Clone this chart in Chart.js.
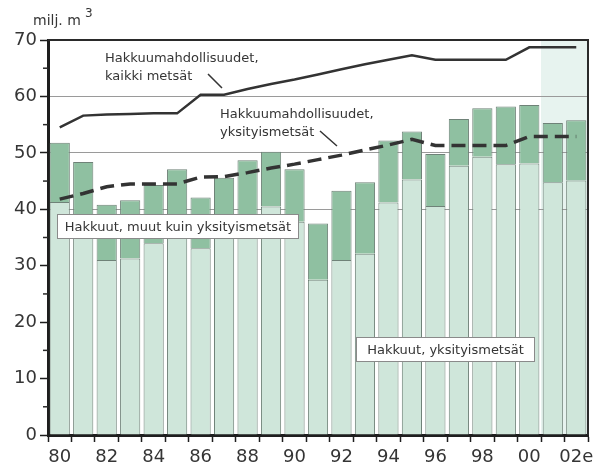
<!DOCTYPE html>
<html>
<head>
<meta charset="utf-8">
<script src="https://cdn.jsdelivr.net/npm/chart.js@4"></script>
<style>
  html, body { margin: 0; padding: 0; background: #fff; }
  #wrap { width: 607px; height: 473px; }
</style>
</head>
<body>
<div id="wrap"><canvas id="myChart"></canvas></div>
<script>
// vuodet 1980-2002 (2002 arvio)
var years = ['80','81','82','83','84','85','86','87','88','89','90','91','92','93','94','95','96','97','98','99','00','01','02e'];
var xTickLabels = ['80','82','84','86','88','90','92','94','96','98','00','02e'];
var forecastYears = ['01','02e'];

// hakkuut, milj. m3
var privateCuts = [41.3, 37.0, 31.0, 31.3, 34.0, 37.5, 33.1, 37.0, 38.0, 40.5, 37.8, 27.5, 31.0, 32.1, 41.2, 45.3, 40.6, 47.7, 49.3, 48.0, 48.1, 44.8, 45.1];
var otherCuts   = [10.5, 11.4,  9.8, 10.3, 10.3,  9.6,  9.0,  8.6, 10.7,  9.7,  9.3, 10.0, 12.3, 12.7, 11.0,  8.5,  9.2,  8.3,  8.6, 10.2, 10.4, 10.5, 10.7];

// hakkuumahdollisuudet
var potentialAll     = [54.5, 56.6, 56.8, 56.9, 57.0, 57.0, 60.3, 60.3, 61.3, 62.2, 63.0, 63.9, 64.8, 65.7, 66.5, 67.3, 66.5, 66.5, 66.5, 66.5, 68.7, 68.7, 68.7];
var potentialPrivate = [41.8, 42.8, 44.0, 44.5, 44.5, 44.5, 45.7, 45.8, 46.5, 47.3, 48.0, 48.8, 49.6, 50.5, 51.4, 52.4, 51.3, 51.3, 51.3, 51.3, 52.9, 52.9, 52.9];

var yTicks = [0, 10, 20, 30, 40, 50, 60, 70];

var FONT = "'DejaVu Sans', sans-serif";
var INK = '#353535';

function boxLabel(c, text, x1, y1, x2, y2) {
  c.fillStyle = '#ffffff';
  c.fillRect(x1, y1, x2 - x1, y2 - y1);
  c.strokeStyle = '#8a8a8a';
  c.lineWidth = 1;
  c.strokeRect(x1 + 0.5, y1 + 0.5, x2 - x1 - 1, y2 - y1 - 1);
  c.fillStyle = INK;
  c.textAlign = 'center';
  c.textBaseline = 'middle';
  c.fillText(text, (x1 + x2) / 2, (y1 + y2) / 2 + 1);
}

var decor = {
  id: 'decor',
  beforeDraw: function(chart) {
    var c = chart.ctx, a = chart.chartArea, xs = chart.scales.x;
    var w = xs.getPixelForValue(1) - xs.getPixelForValue(0);
    var x0 = xs.getPixelForValue(years.indexOf(forecastYears[0])) - w / 2;
    c.save();
    c.fillStyle = '#e7f3ef';
    c.fillRect(x0, a.top, a.right - x0, a.bottom - a.top);
    c.restore();
  },
  afterDraw: function(chart) {
    var c = chart.ctx, a = chart.chartArea, ys = chart.scales.y;
    c.save();
    // kehys ylä- ja oikea reuna
    c.strokeStyle = '#2a2a2a';
    c.lineWidth = 2;
    c.beginPath();
    c.moveTo(a.left, a.top);
    c.lineTo(a.right, a.top);
    c.lineTo(a.right, a.bottom);
    c.stroke();
    // pienet väliviivat 5:n välein
    c.lineWidth = 1.5;
    for (var v = 5; v < 70; v += 10) {
      var py = ys.getPixelForValue(v);
      c.beginPath();
      c.moveTo(a.left - 5, py);
      c.lineTo(a.left, py);
      c.stroke();
    }
    // yksikkö
    c.fillStyle = INK;
    c.font = '14px ' + FONT;
    c.textAlign = 'left';
    c.textBaseline = 'alphabetic';
    c.fillText('milj. m', 33, 25);
    c.font = '12px ' + FONT;
    c.fillText('3', 85, 17);

    // viivojen selitteet
    c.font = '13px ' + FONT;
    c.fillText('Hakkuumahdollisuudet,', 105, 62);
    c.fillText('kaikki metsät', 105, 80);
    c.fillText('Hakkuumahdollisuudet,', 220, 118);
    c.fillText('yksityismetsät', 220, 136);
    c.strokeStyle = INK;
    c.lineWidth = 1.5;
    c.beginPath();
    c.moveTo(208, 74); c.lineTo(222, 88);
    c.moveTo(320, 131); c.lineTo(337, 146);
    c.stroke();

    // pylväiden selitteet
    c.font = '13px ' + FONT;
    boxLabel(c, 'Hakkuut, muut kuin yksityismetsät', 57, 214, 299, 239);
    boxLabel(c, 'Hakkuut, yksityismetsät', 356, 337, 535, 362);
    c.restore();
  }
};

var ctx = document.getElementById('myChart').getContext('2d');
var myChart = new Chart(ctx, {
  type: 'bar',
  data: {
    labels: years,
    datasets: [{
      type: 'line',
      label: 'Hakkuumahdollisuudet, kaikki metsät',
      data: potentialAll,
      stack: 'all',
      borderColor: '#333333',
      borderWidth: 2.5,
      pointRadius: 0,
      tension: 0,
      order: 0
    }, {
      type: 'line',
      label: 'Hakkuumahdollisuudet, yksityismetsät',
      data: potentialPrivate,
      stack: 'private',
      borderColor: '#333333',
      borderWidth: 3.5,
      borderDash: [14, 7],
      pointRadius: 0,
      tension: 0,
      order: 0
    }, {
      label: 'Hakkuut, yksityismetsät',
      data: privateCuts,
      stack: 'cuts',
      backgroundColor: '#cfe6da',
      borderColor: '#6f8278',
      borderWidth: 1,
      categoryPercentage: 1,
      barPercentage: 0.86,
      order: 1
    }, {
      label: 'Hakkuut, muut kuin yksityismetsät',
      data: otherCuts,
      stack: 'cuts',
      backgroundColor: '#8fc0a1',
      borderColor: '#6f8278',
      borderWidth: 1,
      categoryPercentage: 1,
      barPercentage: 0.86,
      order: 1
    }]
  },
  options: {
    responsive: true,
    maintainAspectRatio: false,
    animation: false,
    layout: { padding: { left: 0, right: 19, top: 40, bottom: 0 } },
    plugins: {
      legend: { display: false },
      tooltip: { enabled: false }
    },
    scales: {
      x: {
        stacked: true,
        afterFit: function(scale) { scale.height = 38; },
        border: { color: '#1e1e1e', width: 3 },
        grid: { drawOnChartArea: false, offset: true, tickLength: 7, tickColor: '#1e1e1e', tickWidth: 1.5 },
        ticks: {
          autoSkip: false,
          maxRotation: 0,
          padding: 5,
          color: INK,
          font: { family: FONT, size: 18 },
          callback: function(value, index) {
            var l = years[index];
            return xTickLabels.indexOf(l) >= 0 ? l : '';
          }
        }
      },
      y: {
        stacked: true,
        min: 0,
        max: 70,
        afterFit: function(scale) { scale.width = 48; },
        border: { color: '#1e1e1e', width: 3 },
        grid: {
          color: function(c) {
            var v = c.tick.value;
            return (v >= 40 && v < 70) ? '#9a9a9a' : 'rgba(0,0,0,0)';
          },
          lineWidth: 1,
          tickLength: 8,
          tickColor: '#1e1e1e',
          tickWidth: 1.5
        },
        afterBuildTicks: function(scale) {
          scale.ticks = yTicks.map(function(v) { return { value: v }; });
        },
        ticks: {
          padding: 3,
          color: INK,
          font: { family: FONT, size: 18 }
        }
      }
    }
  },
  plugins: [decor]
});
</script>
</body>
</html>
